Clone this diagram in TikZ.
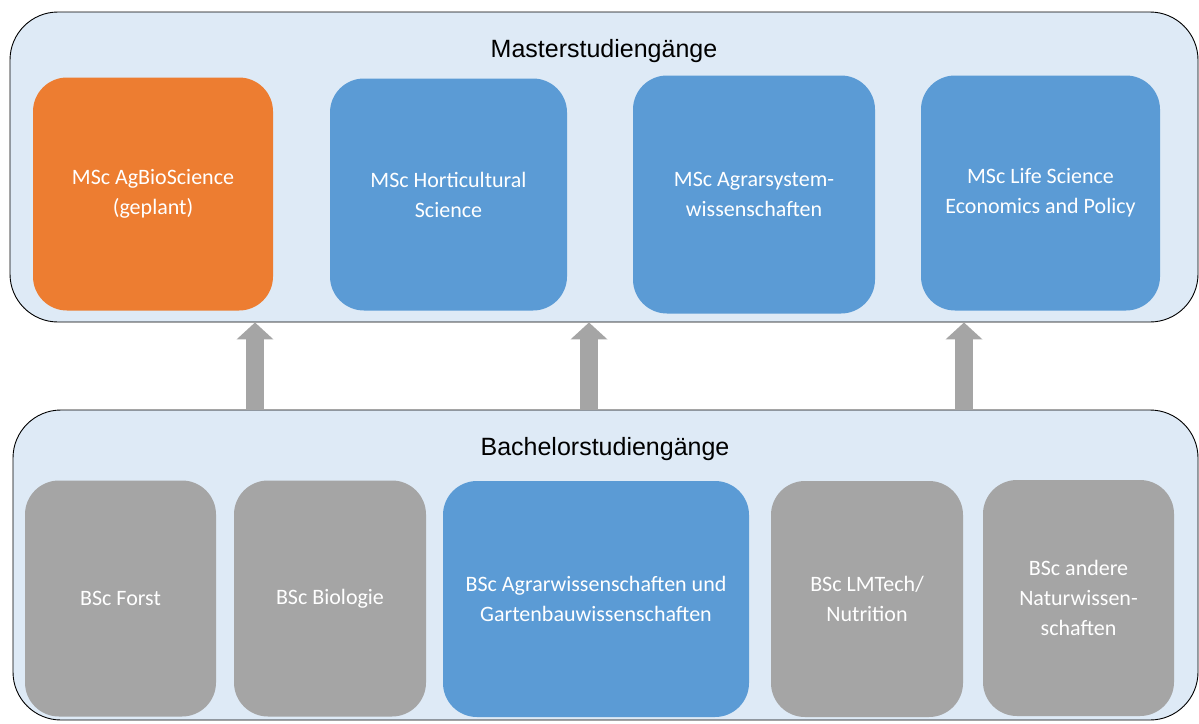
\documentclass[tikz,border=0pt]{standalone}
\usepackage{fontspec}
\setmainfont{Carlito}
\newfontfamily\headfont{Liberation Sans}
\usetikzlibrary{positioning,arrows.meta}

\definecolor{panelblue}{HTML}{DEEAF6}
\definecolor{progorange}{HTML}{ED7D31}
\definecolor{progblue}{HTML}{5B9BD5}
\definecolor{proggray}{HTML}{A5A5A5}

\tikzset{
    panel/.style={draw=black, line width=0.9pt, fill=panelblue, rounded corners=48pt,
        minimum height=310pt, inner sep=0pt},
    prog/.style={rounded corners=34pt, minimum height=236pt, inner sep=0pt,
        text=white, align=center, font=\fontsize{22}{30}\selectfont},
    head/.style={anchor=base, font=\headfont\fontsize{25}{30}\selectfont},
    uparrow/.style={draw=proggray, line width=18pt, -{Triangle[width=36pt,length=17pt]}}
}

\begin{document}
\begin{tikzpicture}[x=1pt, y=-1pt]
    \useasboundingbox (0,0) rectangle (1199,723);

    % Panels
    \node[panel, minimum width=1188pt] (mast) at (604,167) {};
    \node[panel, minimum width=1185pt] (bach) at (605.5,565) {};
    \node[head] (masttitle) at (604,57.5) {Masterstudiengänge};
    \node[head] (bachtitle) at (605,455.5) {Bachelorstudiengänge};

    % Master programmes
    \node[prog, fill=progorange, minimum width=240pt, minimum height=233pt] (agbio) at (153,194) {MSc AgBioScience\\(geplant)};
    \node[prog, fill=progblue, minimum width=237pt, minimum height=232pt] (horti) at (448.5,194.5) {MSc Horticultural\\Science};
    \node[prog, fill=progblue, minimum width=242pt, minimum height=238pt] (agrsys) at (754,194.5) {MSc Agrarsystem-\\wissenschaften};
    \node[prog, fill=progblue, minimum width=239pt, minimum height=235pt] (lifesci) at (1040.5,193) {MSc Life Science\\Economics and Policy};

    % Bachelor programmes
    \node[prog, fill=proggray, minimum width=191pt] (forst) at (120.5,598.5) {BSc Forst};
    \node[prog, fill=proggray, minimum width=192pt] (bio) at (330,598.5) {BSc Biologie};
    \node[prog, fill=progblue, minimum width=306pt] (agrar) at (596,599) {BSc Agrarwissenschaften und\\Gartenbauwissenschaften};
    \node[prog, fill=proggray, minimum width=192pt] (lmtech) at (867,599) {BSc LMTech/\\Nutrition};
    \node[prog, fill=proggray, minimum width=191pt] (andere) at (1078.5,598) {BSc andere\\Naturwissen-\\schaften};

    % Arrows
    \coordinate (a1) at (255,410);
    \coordinate (a2) at (589,410);
    \coordinate (a3) at (964,410);
    \foreach \a in {a1,a2,a3}
        \draw[uparrow] (\a) -- (\a |- mast.south);
\end{tikzpicture}
\end{document}
